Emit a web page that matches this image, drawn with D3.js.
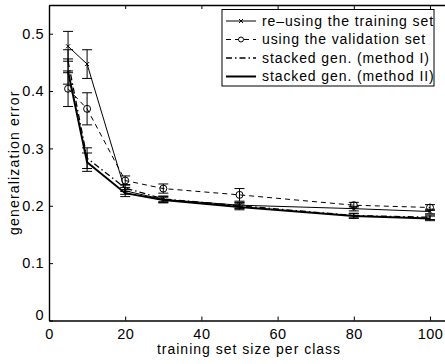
<!DOCTYPE html>
<html>
<head>
<meta charset="utf-8">
<script src="https://cdn.jsdelivr.net/npm/d3@7"></script>
<style>
  body { margin: 0; background: #fff; }
  svg { font-family: "Liberation Sans", Arial, sans-serif; }
</style>
</head>
<body>
<div id="chart"></div>
<script>
// data
const sizes = [5, 10, 20, 30, 50, 80, 100];
const reuseErr = [0.478, 0.447, 0.226, 0.211, 0.201, 0.195, 0.19];
const reuseBar = [0.026, 0.025, 0.006, 0.005, 0.005, 0.004, 0.004];
const validErr = [0.404, 0.369, 0.244, 0.23, 0.219, 0.201, 0.197];
const validBar = [0.031, 0.028, 0.008, 0.008, 0.011, 0.005, 0.005];
const stack1Err = [0.452, 0.283, 0.231, 0.212, 0.2, 0.183, 0.18];
const stack1Bar = [0.02, 0.018, 0.006, 0.005, 0.005, 0.004, 0.004];
const stack2Err = [0.434, 0.276, 0.222, 0.21, 0.198, 0.182, 0.178];
const stack2Bar = [0.022, 0.016, 0.006, 0.005, 0.005, 0.004, 0.004];
const xTicks = [0, 20, 40, 60, 80, 100];
const yTicks = [0, 0.1, 0.2, 0.3, 0.4, 0.5];
const legendLabels = [
  're\u2013using the training set',
  'using the validation set',
  'stacked gen. (method I)',
  'stacked gen. (method II)',
];

const W = 445, H = 364;
const mLeft = 49, mTop = 5, mBottom = 320.5;

const svg = d3.select('#chart').append('svg')
  .attr('width', W).attr('height', H);

const x = d3.scaleLinear().domain([0, 105]).range([mLeft, mLeft + 3.81 * 105]);
const y = d3.scaleLinear().domain([0, 0.55]).range([mBottom, mTop]);

// series styles
const series = [
  { vals: reuseErr, bars: reuseBar, width: 1, dash: null, marker: 'x' },
  { vals: validErr, bars: validBar, width: 1, dash: '5,4', marker: 'o' },
  { vals: stack1Err, bars: stack1Bar, width: 1.3, dash: '6,3,1.5,3', marker: null },
  { vals: stack2Err, bars: stack2Bar, width: 2, dash: null, marker: null },
];

const line = d3.line().x((d) => x(d[0])).y((d) => y(d[1]));

series.forEach((s) => {
  const pts = sizes.map((v, i) => [v, s.vals[i], s.bars[i]]);
  svg.append('path')
    .datum(pts)
    .attr('d', line)
    .attr('fill', 'none')
    .attr('stroke', '#000')
    .attr('stroke-width', s.width)
    .attr('stroke-dasharray', s.dash);

  // error bars
  const g = svg.append('g').attr('stroke', '#000').attr('stroke-width', 1);
  pts.forEach((p) => {
    const cx = x(p[0]);
    const y0 = y(p[1] - p[2]);
    const y1 = y(p[1] + p[2]);
    g.append('line').attr('x1', cx).attr('x2', cx).attr('y1', y0).attr('y2', y1);
    g.append('line').attr('x1', cx - 5).attr('x2', cx + 5).attr('y1', y0).attr('y2', y0);
    g.append('line').attr('x1', cx - 5).attr('x2', cx + 5).attr('y1', y1).attr('y2', y1);
  });

  if (s.marker === 'o') {
    svg.append('g').selectAll('circle').data(pts).join('circle')
      .attr('cx', (d) => x(d[0])).attr('cy', (d) => y(d[1]))
      .attr('r', 3.5).attr('fill', 'none').attr('stroke', '#000');
  } else if (s.marker === 'x') {
    svg.append('g').selectAll('path').data(pts).join('path')
      .attr('d', (d) => {
        const cx = x(d[0]), cy = y(d[1]), r = 2;
        return `M${cx - r},${cy - r}L${cx + r},${cy + r}M${cx - r},${cy + r}L${cx + r},${cy - r}`;
      })
      .attr('stroke', '#000').attr('fill', 'none');
  }
});

// axes (matlab style, ticks inside)
const axisB = svg.append('g')
  .attr('transform', `translate(0,${mBottom})`)
  .call(d3.axisBottom(x).tickValues(xTicks).tickSizeInner(-4).tickSizeOuter(0));
const axisT = svg.append('g')
  .attr('transform', `translate(0,${mTop})`)
  .call(d3.axisTop(x).tickValues(xTicks).tickSizeInner(-4).tickSizeOuter(0).tickFormat(''));
const axisL = svg.append('g')
  .attr('transform', `translate(${mLeft},0)`)
  .call(d3.axisLeft(y).tickValues(yTicks).tickSizeInner(-4).tickSizeOuter(0).tickPadding(5)
    .tickFormat((d) => (d === 0 ? '0' : d3.format('.1f')(d))));

[axisB, axisT, axisL].forEach((a) => {
  a.select('.domain').attr('stroke', '#000').attr('stroke-width', 1.4);
  a.selectAll('text').attr('font-size', 14.5).attr('fill', '#000')
    .attr('letter-spacing', 0.5)
    .attr('font-family', '"Liberation Sans", Arial, sans-serif');
});
axisB.selectAll('text').attr('dy', '0.71em').attr('y', 8);
axisL.selectAll('.tick').filter((d) => d === 0).select('text').attr('dy', '-0.05em');

// x label
svg.append('text')
  .attr('x', 249).attr('y', 353.5)
  .attr('text-anchor', 'middle')
  .attr('font-size', 14)
  .attr('letter-spacing', 1)
  .text('training set size per class');

// y label
svg.append('text')
  .attr('transform', `translate(19,${(mTop + mBottom) / 2}) rotate(-90)`)
  .attr('text-anchor', 'middle')
  .attr('font-size', 14)
  .attr('letter-spacing', 1.2)
  .text('generalization error');

// legend
const lg = svg.append('g');
lg.append('rect')
  .attr('x', 222).attr('y', 9.5).attr('width', 212).attr('height', 76.5)
  .attr('fill', '#fff').attr('stroke', '#000').attr('stroke-width', 1);
legendLabels.forEach((lbl, i) => {
  const s = series[i];
  const ly = 21 + i * 18.5;
  lg.append('line')
    .attr('x1', 226).attr('x2', 256).attr('y1', ly).attr('y2', ly)
    .attr('stroke', '#000').attr('stroke-width', s.width)
    .attr('stroke-dasharray', s.dash);
  if (s.marker === 'o') {
    lg.append('circle').attr('cx', 241).attr('cy', ly).attr('r', 2.5)
      .attr('fill', '#fff').attr('stroke', '#000');
  } else if (s.marker === 'x') {
    lg.append('path')
      .attr('d', `M239,${ly - 2}L243,${ly + 2}M239,${ly + 2}L243,${ly - 2}`)
      .attr('stroke', '#000');
  }
  lg.append('text')
    .attr('x', 262).attr('y', ly).attr('dy', '0.35em')
    .attr('font-size', 14)
    .attr('letter-spacing', 0.9)
    .text(lbl);
});
</script>
</body>
</html>
